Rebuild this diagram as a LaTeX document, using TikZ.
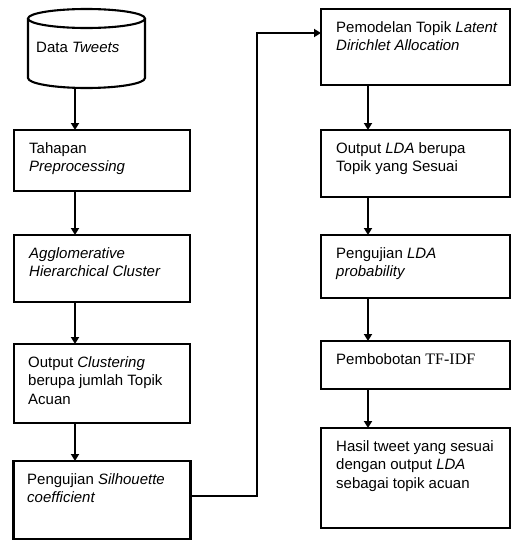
\documentclass[tikz,border=0pt]{standalone}
\usepackage{fontspec}
\setmainfont{Liberation Sans}
\newfontfamily\tnr{Liberation Serif}
\usetikzlibrary{arrows.meta}
\tikzset{
  boxnode/.style={draw, line width=2.1pt, inner sep=0, outer sep=0, anchor=north west},
  txt/.style={anchor=north west, inner sep=0, align=left, font=\fontsize{15}{18.5}\selectfont},
  arr/.style={line width=2.1pt, -{Triangle[width=8pt,length=7pt]}},
  ln/.style={line width=2.1pt}
}
\begin{document}
\begin{tikzpicture}[x=1pt,y=-1pt]
\useasboundingbox (0,0) rectangle (512,541);
% cylinder
\node[inner sep=0, outer sep=0, minimum width=117pt, minimum height=79pt, anchor=north west] (cyl) at (28,9) {};
\draw[ln] (28,18.5) -- (28,78) arc[start angle=180, end angle=360, x radius=58.5pt, y radius=10pt] -- (145,18.5);
\draw[ln] (86.5,18.5) ellipse[x radius=58.5pt, y radius=9.5pt];
\node[txt] (tcyl) at (36,42) {Data \textit{Tweets}};
% left column
\node[boxnode, minimum width=176pt, minimum height=61pt] (b1) at (14,130) {};
\node[boxnode, minimum width=176pt, minimum height=67pt] (b2) at (14,235) {};
\node[boxnode, minimum width=176pt, minimum height=79pt] (b3) at (14,344) {};
\node[boxnode, minimum width=177pt, minimum height=78pt] (b4) at (13.5,461) {};
\node[txt] (t1) at (29,142) {Tahapan\\\textit{Preprocessing}};
\node[txt] (t2) at (29,247) {\textit{Agglomerative}\\\textit{Hierarchical Cluster}};
\node[txt] (t3) at (28,356) {Output \textit{Clustering}\\berupa jumlah Topik\\Acuan};
\node[txt] (t4) at (27,473) {Pengujian \textit{Silhouette}\\\textit{coefficient}};
% right column
\node[boxnode, minimum width=189pt, minimum height=76pt] (r1) at (321,9) {};
\node[boxnode, minimum width=189pt, minimum height=67pt] (r2) at (321,130) {};
\node[boxnode, minimum width=189pt, minimum height=63pt] (r3) at (321,235) {};
\node[boxnode, minimum width=189pt, minimum height=48pt] (r4) at (321,341) {};
\node[boxnode, minimum width=189pt, minimum height=100pt] (r5) at (321,428) {};
\node[txt] (s1) at (336,21) {Pemodelan Topik \textit{Latent}\\\textit{Dirichlet Allocation}};
\node[txt] (s2) at (336,142) {Output \textit{LDA} berupa\\Topik yang Sesuai};
\node[txt] (s3) at (336,247) {Pengujian \textit{LDA}\\\textit{probability}};
\node[txt] (s4) at (336,353) {Pembobotan {\tnr\fontsize{16}{18.5}\selectfont TF-IDF}};
\node[txt] (s5) at (336,440) {Hasil tweet yang sesuai\\dengan output \textit{LDA}\\sebagai topik acuan};
% arrows
\coordinate (ax) at (75,0);
\coordinate (bx) at (368,0);
\draw[arr] (cyl.south -| ax) -- (b1.north -| ax);
\draw[arr] (b1.south -| ax) -- (b2.north -| ax);
\draw[arr] (b2.south -| ax) -- (b3.north -| ax);
\draw[arr] (b3.south -| ax) -- (b4.north -| ax);
\draw[arr] (r1.south -| bx) -- (r2.north -| bx);
\draw[arr] (r2.south -| bx) -- (r3.north -| bx);
\draw[arr] (r3.south -| bx) -- (r4.north -| bx);
\draw[arr] (r4.south -| bx) -- (r5.north -| bx);
\coordinate (lp) at (257,496);
\coordinate (lq) at (257,33);
\draw[arr] (lp -| b4.east) -- (lp) -- (lq) -- (lq -| r1.west);
\end{tikzpicture}
\end{document}
